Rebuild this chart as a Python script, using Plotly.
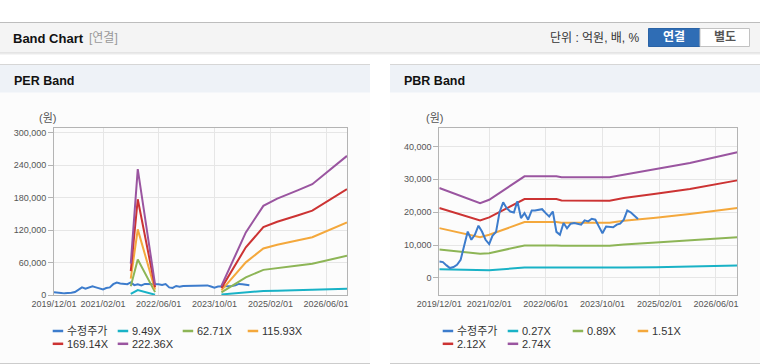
import plotly.graph_objects as go
import pandas as pd

# ---------------- data ----------------
x_tickvals = ["2019-12-01", "2021-02-01", "2022-06-01", "2023-10-01", "2025-02-01", "2026-06-01"]
x_ticktext = ["2019/12/01", "2021/02/01", "2022/06/01", "2023/10/01", "2025/02/01", "2026/06/01"]

# adjusted close (수정주가), monthly from 2019-12
price = [5000, 4800, 3800, 3000, 3300, 4000, 5500, 9500, 14100, 11600,
         13100, 15900, 14100, 11600, 10300, 12800, 14000, 20000, 23000, 21200,
         20200, 19900, 23300, 18200, 19700, 17700, 20500, 20500, 20700, 20900,
         19700, 18700, 20200, 14000, 13100, 16700, 15100, 16500, 16700, 16500,
         16200, 17500, 17200, 18000, 17700, 15600, 13600, 15600, 15600, 15400,
         16200, 16500, 17700, 20500, 19900, 18900, 17900]
price_dates = pd.date_range("2019-12-01", periods=len(price), freq="MS")

# PER band
per_names = ["9.49X", "62.71X", "115.93X", "169.14X", "222.36X"]
per_dates = ["2021-10-01", "2021-12-01", "2022-05-01", "2023-01-01",
             "2023-12-01", "2024-07-01", "2024-12-01", "2025-04-01", "2025-10-01", "2026-02-01", "2026-12-01"]
per_949 = [1900, 9200, 500, None, 1000, 5000, 7500, 8000, 8700, 9300, 11500]
per_6271 = [16300, 65500, 5300, None, 4700, 32600, 46400, 50200, 54600, 57700, 72400]
per_11593 = [30100, 121200, 9900, None, 8700, 60300, 85800, 92700, 100900, 106700, 133900]
per_16914 = [44000, 176800, 14400, None, 12700, 88000, 125200, 135300, 147200, 155600, 195400]
per_22236 = [57800, 232400, 18900, None, 16700, 115600, 164600, 177900, 193500, 204600, 256800]
per_ticks = [0, 60000, 120000, 180000, 240000, 300000]

# PBR band
pbr_names = ["0.27X", "0.89X", "1.51X", "2.12X", "2.74X"]
pbr_dates = ["2019-12-01", "2020-11-15", "2021-02-01", "2021-12-01", "2022-09-01", "2022-10-15",
             "2023-12-01", "2024-04-01", "2025-01-01", "2025-10-20", "2026-12-01"]
pbr_027 = [2640, 2240, 2340, 3150, 3150, 2950, 2950, 3150, 3250, 3460, 3760]
pbr_089 = [8640, 7320, 7520, 9860, 9860, 9760, 9760, 10160, 10770, 11380, 12400]
pbr_151 = [15140, 12400, 13110, 16970, 16970, 16770, 16770, 17380, 18290, 19410, 21240]
pbr_212 = [21240, 17480, 18400, 23980, 23980, 23580, 23480, 24290, 25610, 27030, 29670]
pbr_274 = [27340, 22760, 23780, 30900, 30900, 30590, 30590, 31400, 33130, 34960, 38200]
pbr_ticks = [0, 10000, 20000, 30000, 40000]

price_name = "수정주가"
price_color = "#3d7ccc"
band_colors = ["#19b2c6", "#8db556", "#f4a83c", "#cc3333", "#9a55a0"]

# ---------------- figure ----------------
W, H = 760, 364
FONT = "Liberation Sans, Noto Sans CJK KR, sans-serif"


def px(x):
    return x / W


def py(y):
    return 1 - y / H


fig = go.Figure()

fig.add_trace(go.Scatter(x=price_dates, y=price, mode="lines", line=dict(color=price_color, width=2),
                         xaxis="x", yaxis="y", showlegend=False, hoverinfo="skip"))
for vals, col in zip([per_949, per_6271, per_11593, per_16914, per_22236], band_colors):
    fig.add_trace(go.Scatter(x=per_dates, y=vals, mode="lines", line=dict(color=col, width=2),
                             connectgaps=False, xaxis="x", yaxis="y", showlegend=False, hoverinfo="skip"))

for vals, col in zip([pbr_027, pbr_089, pbr_151, pbr_212, pbr_274], band_colors):
    fig.add_trace(go.Scatter(x=pbr_dates, y=vals, mode="lines", line=dict(color=col, width=2),
                             xaxis="x2", yaxis="y2", showlegend=False, hoverinfo="skip"))
fig.add_trace(go.Scatter(x=price_dates, y=price, mode="lines", line=dict(color=price_color, width=2),
                         xaxis="x2", yaxis="y2", showlegend=False, hoverinfo="skip"))

axis_common = dict(showgrid=True, gridcolor="#e6e6e6", gridwidth=1, showline=True, linecolor="#b4b4b4",
                   linewidth=1, mirror=True, zeroline=False, automargin=False,
                   tickfont=dict(family=FONT, size=9, color="#555"))

xcommon = dict(axis_common, type="date", range=["2019-12-01", "2026-12-01"],
               tickvals=x_tickvals, ticktext=x_ticktext, ticks="")

ydom = [py(295), py(128)]
fig.update_layout(
    template="none",
    width=W, height=H, margin=dict(l=0, r=0, t=0, b=0, pad=0, autoexpand=False),
    paper_bgcolor="white", plot_bgcolor="white", showlegend=False,
    xaxis=dict(xcommon, domain=[px(54), px(347)], anchor="y"),
    yaxis=dict(axis_common, domain=ydom, anchor="x", range=[0, 308300], tickvals=per_ticks,
               tickformat=",", ticks="outside", ticklen=5, tickcolor="#b4b4b4"),
    xaxis2=dict(xcommon, domain=[px(439.3), px(737.3)], anchor="y2"),
    yaxis2=dict(axis_common, domain=ydom, anchor="x2", range=[-5200, 45600], tickvals=pbr_ticks,
                tickformat=",", ticks="outside", ticklen=5, tickcolor="#b4b4b4"),
)

shapes = []
ann = []


def rect(x0, y0, x1, y1, fill, line=None, lw=1):
    shapes.append(dict(type="rect", xref="paper", yref="paper", x0=px(x0), x1=px(x1), y0=py(y1), y1=py(y0),
                       fillcolor=fill, line=dict(color=line or fill, width=lw if line else 0), layer="below"))


def hline(x0, x1, y, color, w=1):
    shapes.append(dict(type="line", xref="paper", yref="paper", x0=px(x0), x1=px(x1), y0=py(y), y1=py(y),
                       line=dict(color=color, width=w), layer="below"))


def text(x, y, s, size=12, color="#333", xanchor="left", bold=False):
    ann.append(dict(xref="paper", yref="paper", x=px(x), y=py(y), text=f"<b>{s}</b>" if bold else s,
                    showarrow=False, xanchor=xanchor, yanchor="middle",
                    font=dict(family=FONT, size=size, color=color)))


# top header bar
rect(0, 22, 760, 52.5, "#f4f4f4")
hline(0, 760, 22.5, "#bdbdbd")
hline(0, 760, 53, "#cfcfcf")
hline(0, 760, 54, "#ececec")
text(11, 38.5, "Band Chart", size=13, color="#111", bold=True)
text(87, 38.5, "[연결]", size=12, color="#999")
text(641.5, 38.5, "단위 : 억원, 배, %", size=12, color="#333", xanchor="right")
rect(648.5, 28.5, 700, 46.5, "#2f6db5", line="#2a63a6")
rect(700, 28.5, 749.5, 46.5, "#ffffff", line="#c2c2c2")
text(674, 37.5, "연결", size=12, color="white", xanchor="center", bold=True)
text(725, 37.5, "별도", size=12, color="#555", xanchor="center", bold=True)

# panels
for x0, x1, title in [(0, 370, "PER Band"), (390, 760, "PBR Band")]:
    rect(x0, 64, x1, 364, "#fcfcfc")
    rect(x0, 64.5, x1, 92.5, "#eef2f7")
    hline(x0, x1, 64.5, "#d6d6d6")
    hline(x0, x1, 363.5, "#cccccc")
    text(x0 + 11.5, 80.5, title, size=12.5, color="#111", bold=True)

text(47.5, 118, "(원)", size=11, color="#555", xanchor="center")
text(434, 118, "(원)", size=11, color="#555", xanchor="center")

# legends
all_names_per = [price_name] + per_names
all_names_pbr = [price_name] + pbr_names
all_colors = [price_color] + band_colors
for base_x, names in [(52.7, all_names_per), (442.7, all_names_pbr)]:
    for i, (nm, col) in enumerate(zip(names, all_colors)):
        row, c = divmod(i, 4)
        lx = base_x + c * 65
        ly = 331 + row * 12.8
        shapes.append(dict(type="line", xref="paper", yref="paper", x0=px(lx), x1=px(lx + 10.5),
                           y0=py(ly), y1=py(ly), line=dict(color=col, width=2.5)))
        text(lx + 12.5, ly, nm, size=11, color="#333")

fig.update_layout(shapes=shapes, annotations=ann)
fig.write_html("out.html", config={"displayModeBar": False},
               post_script="document.body.style.margin='0';document.body.style.padding='0';")
